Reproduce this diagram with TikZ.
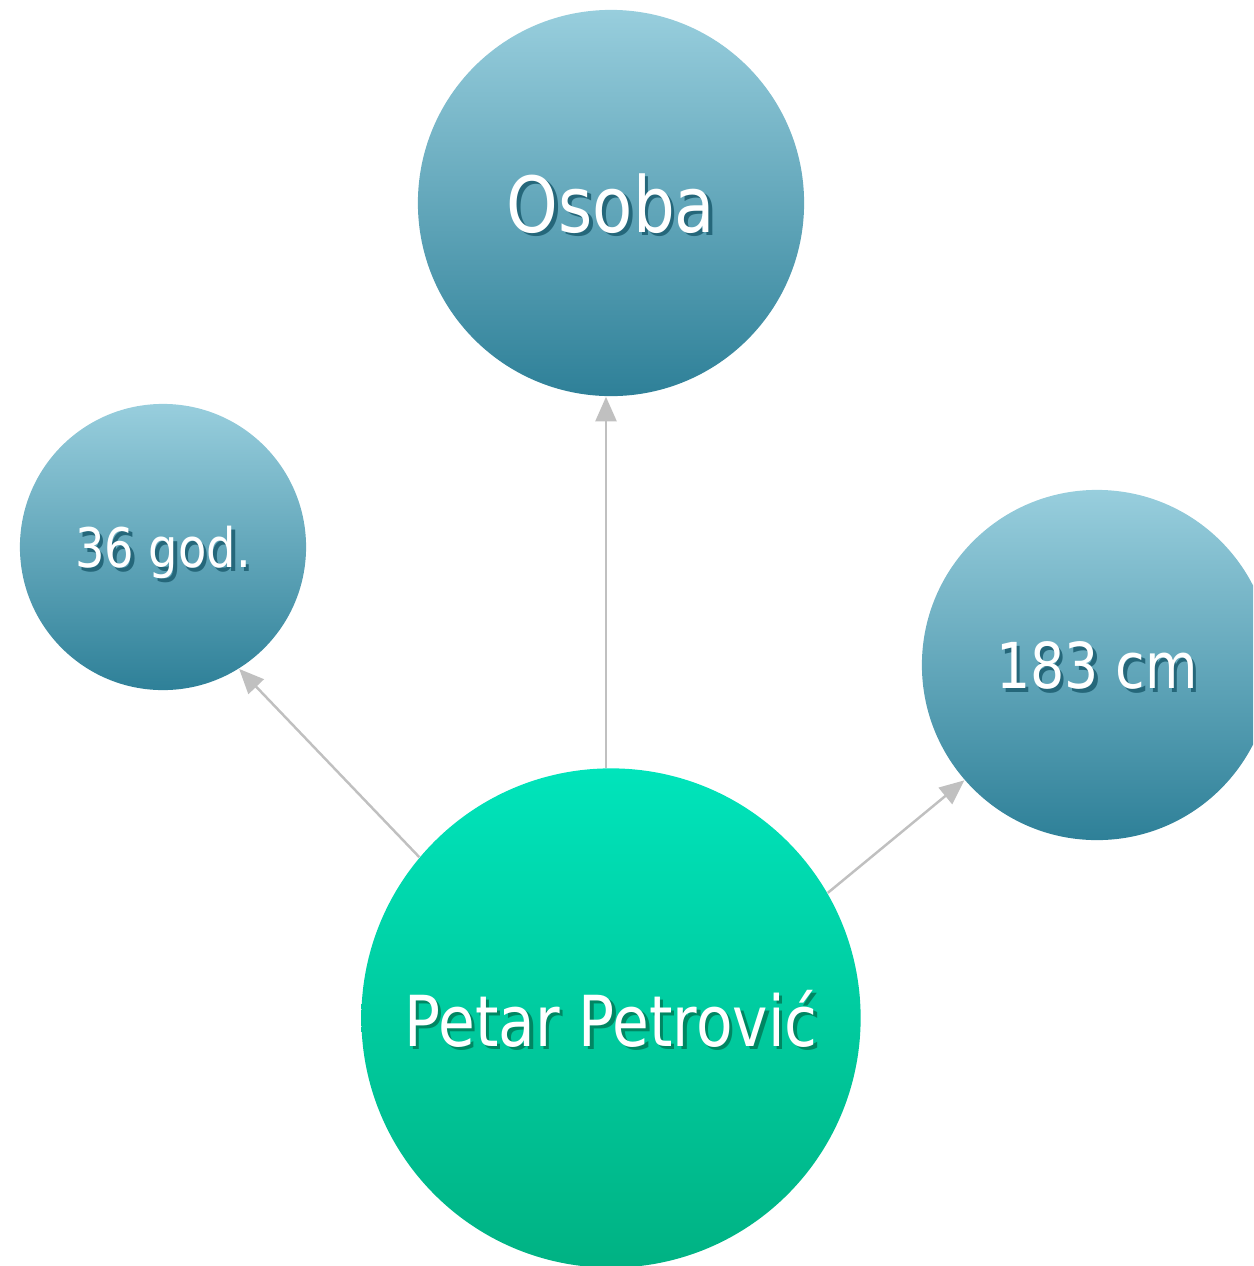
\documentclass[tikz,border=0pt]{standalone}
\usepackage{fontspec}
\setmainfont{DejaVu Sans}[FakeStretch=0.85]
\usepackage{tikz}
\usetikzlibrary{arrows.meta,shadings}
\definecolor{bubbletop}{RGB}{152,206,221}
\definecolor{bubblebottom}{RGB}{46,128,152}
\definecolor{maintop}{RGB}{0,228,187}
\definecolor{mainbottom}{RGB}{0,178,131}
\definecolor{linkgray}{RGB}{192,192,192}
\newcommand{\shadowtext}[2]{\makebox[0pt][l]{\hspace{1pt}\raisebox{-1pt}{\textcolor{#1}{#2}}}#2}

\tikzset{
  bubble/.style={circle, inner sep=0pt, draw=none, text=white, text depth=0pt,
                 shading=axis, top color=bubbletop, bottom color=bubblebottom},
  mainbubble/.style={bubble, top color=maintop, bottom color=mainbottom},
  link/.style={draw=linkgray, line width=0.7pt, -{Triangle[length=7pt,width=6pt]}}
}

\begin{document}
\begin{tikzpicture}[x=0.01cm, y=-0.01cm]
    \useasboundingbox (0,0) rectangle (1253,1266);
    \clip (0,0) rectangle (1253,1266);
    % circles
    \node[bubble, minimum size=3.86cm] (osoba) at (611,203)
        {\fontsize{22pt}{26pt}\selectfont\shadowtext{bubblebottom!80!black}{Osoba}};
    \node[bubble, minimum size=2.86cm] (age) at (163,547)
        {\fontsize{15.5pt}{18pt}\selectfont\shadowtext{bubblebottom!80!black}{36 god.}};
    \node[bubble, minimum size=3.50cm] (height) at (1097,665)
        {\fontsize{18pt}{22pt}\selectfont\shadowtext{bubblebottom!80!black}{183 cm}};
    \node[mainbubble, minimum size=4.99cm] (petar) at (611,1018)
        {\fontsize{20pt}{24pt}\selectfont\shadowtext{mainbottom!75!black}{Petar Petrović}};
    % links
    \draw[link] (petar.north -| 606,0) -- (osoba.south -| 606,0);
    \draw[link] (petar.140.7) -- (age.-58);
    \draw[link] (petar.30.7) -- (height.221.7);
\end{tikzpicture}
\end{document}
